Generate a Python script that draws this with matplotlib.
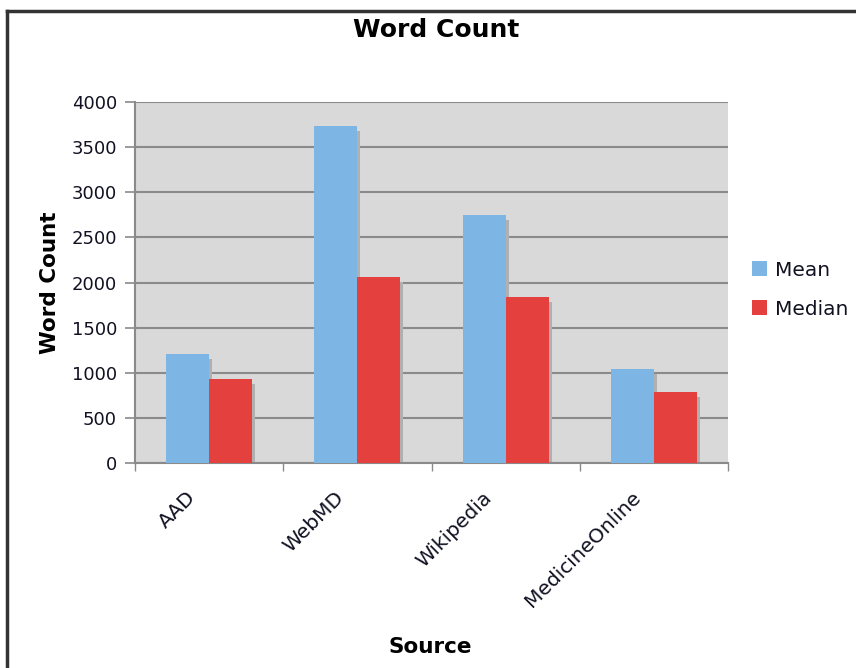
import numpy as np
import matplotlib
matplotlib.use("Agg")
import matplotlib.pyplot as plt
import matplotlib.transforms as mtransforms
from matplotlib.lines import Line2D

sources = ["AAD", "WebMD", "Wikipedia", "MedicineOnline"]
mean_counts = [1208, 3734, 2748, 1042]
median_counts = [930, 2061, 1839, 787]
yticks = [0, 500, 1000, 1500, 2000, 2500, 3000, 3500, 4000]

plt.rcParams["font.family"] = ["DejaVu Sans"]

fig = plt.figure(figsize=(8.56, 6.68), dpi=100)
ax = fig.add_axes([135 / 856, 1 - 463 / 668, (728 - 135) / 856, (463 - 102) / 668])
ax.set_facecolor("#d9d9d9")

x = np.arange(len(sources))
w = 0.29
shadow = mtransforms.offset_copy(ax.transData, fig=fig, x=3, y=-5, units="dots")

for vals, off in [(mean_counts, -w / 2), (median_counts, w / 2)]:
    ax.bar(x + off, vals, w, color="#b0b0b0", transform=shadow, zorder=2)
ax.bar(x - w / 2, mean_counts, w, color="#7db5e4", label="Mean", zorder=3)
ax.bar(x + w / 2, median_counts, w, color="#e4413e", label="Median", zorder=3)

ax.set_xlim(-0.5, len(sources) - 0.5)
ax.set_ylim(0, 4000)
ax.set_yticks(yticks)
ax.yaxis.grid(True, color="#8a8a8a", linewidth=1.5, zorder=1)
ax.set_axisbelow(True)

ax.set_xticks(x)
ax.set_xticklabels(sources, rotation=45, ha="right", rotation_mode="anchor",
                   fontsize=14.5, color="#111122")
ax.set_xticks(np.arange(len(sources) + 1) - 0.5, minor=True)
ax.tick_params(axis="x", which="major", length=0, pad=18)
ax.tick_params(axis="x", which="minor", length=6, color="#8a8a8a", width=1)
ax.tick_params(axis="y", length=7, color="#8a8a8a", width=1.2, labelsize=13, pad=6,
               labelcolor="#111122")
shift = mtransforms.ScaledTranslation(-23 / 100, 0, fig.dpi_scale_trans)
for lbl in ax.get_xticklabels():
    lbl.set_transform(lbl.get_transform() + shift)

for s in ["top", "right"]:
    ax.spines[s].set_visible(False)
ax.spines["left"].set_color("#8a8a8a")
ax.spines["left"].set_linewidth(1.5)
ax.spines["bottom"].set_color("#8a8a8a")
ax.spines["bottom"].set_linewidth(1.5)

ax.set_ylabel("Word Count", fontsize=15.5, fontweight="bold", labelpad=8)
ax.set_xlabel("Source", fontsize=15.5, fontweight="bold")
ax.xaxis.set_label_coords(0.498, -(637 - 463) / (463 - 102))
fig.text(436 / 856, 1 - 30 / 668, "Word Count", ha="center", va="center",
         fontsize=18, fontweight="bold")

ax.legend(loc="center left", bbox_to_anchor=(1.01, 0.48), frameon=False,
          fontsize=14.5, handlelength=0.75, handleheight=0.75, handletextpad=0.4,
          labelspacing=1.0, labelcolor="#111122")

# frame edges on the left and top of the picture
fig.add_artist(Line2D([7 / 856, 7 / 856], [0, 1 - 11 / 668], color="#333333", linewidth=2.5))
fig.add_artist(Line2D([7 / 856, 1], [1 - 11 / 668, 1 - 11 / 668], color="#333333", linewidth=2.5))

fig.savefig("out.png", dpi=100)
